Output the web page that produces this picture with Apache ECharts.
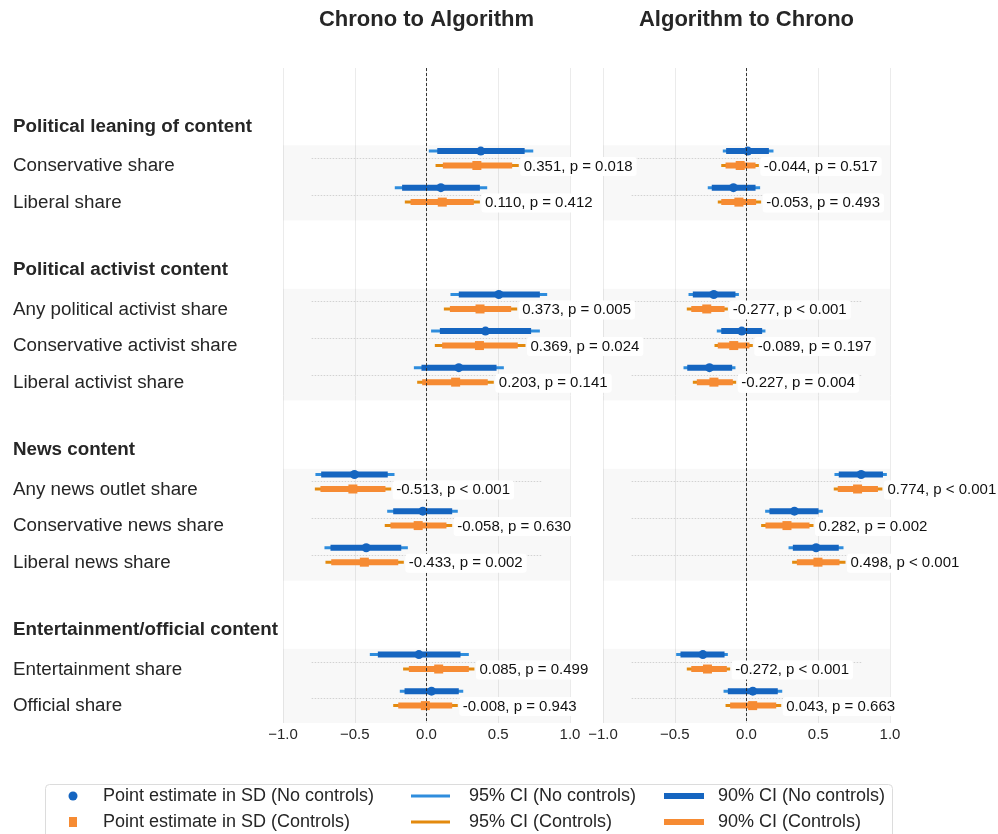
<!DOCTYPE html>
<html>
<head>
<meta charset="utf-8">
<script src="https://cdn.jsdelivr.net/npm/echarts@6/dist/echarts.min.js"></script>
<style>
  html, body { margin: 0; padding: 0; background: #fff; }
  #chart { width: 998px; height: 834px; }
</style>
</head>
<body>
<div id="chart"></div>
<script>
// ---- data ----
const panelTitles = ['Chrono to Algorithm', 'Algorithm to Chrono'];
const groups = ['Political leaning of content', 'Political activist content', 'News content', 'Entertainment/official content'];
const rowLabels = [
  'Conservative share', 'Liberal share',
  'Any political activist share', 'Conservative activist share', 'Liberal activist share',
  'Any news outlet share', 'Conservative news share', 'Liberal news share',
  'Entertainment share', 'Official share'
];
const rowGroup = [0, 0, 1, 1, 1, 2, 2, 2, 3, 3];

// [estimate, 95% low, 95% high, 90% low, 90% high]
const c2aNoCtrl = [
  [0.378, 0.016, 0.744, 0.075, 0.684],
  [0.100, -0.221, 0.423, -0.170, 0.372],
  [0.504, 0.167, 0.841, 0.225, 0.790],
  [0.411, 0.032, 0.790, 0.093, 0.729],
  [0.225, -0.088, 0.539, -0.035, 0.488],
  [-0.502, -0.774, -0.223, -0.734, -0.270],
  [-0.026, -0.274, 0.218, -0.232, 0.179],
  [-0.420, -0.711, -0.130, -0.669, -0.176],
  [-0.053, -0.395, 0.295, -0.339, 0.237],
  [0.035, -0.186, 0.256, -0.153, 0.225]
];
const c2aCtrl = [
  [0.351, 0.063, 0.643, 0.114, 0.597],
  [0.110, -0.151, 0.372, -0.111, 0.330],
  [0.373, 0.121, 0.632, 0.163, 0.590],
  [0.369, 0.058, 0.690, 0.109, 0.636],
  [0.203, -0.065, 0.469, -0.030, 0.427],
  [-0.513, -0.778, -0.246, -0.739, -0.286],
  [-0.058, -0.291, 0.179, -0.251, 0.139],
  [-0.433, -0.704, -0.158, -0.664, -0.197],
  [0.085, -0.163, 0.334, -0.123, 0.295],
  [-0.008, -0.232, 0.218, -0.197, 0.179]
];
const c2aP = ['p = 0.018', 'p = 0.412', 'p = 0.005', 'p = 0.024', 'p = 0.141',
              'p < 0.001', 'p = 0.630', 'p = 0.002', 'p = 0.499', 'p = 0.943'];

const a2cNoCtrl = [
  [0.009, -0.165, 0.188, -0.142, 0.156],
  [-0.091, -0.270, 0.095, -0.242, 0.063],
  [-0.228, -0.404, -0.053, -0.374, -0.077],
  [-0.033, -0.207, 0.132, -0.176, 0.109],
  [-0.258, -0.439, -0.077, -0.413, -0.100],
  [0.799, 0.613, 0.978, 0.643, 0.951],
  [0.334, 0.130, 0.532, 0.160, 0.502],
  [0.485, 0.293, 0.676, 0.323, 0.643],
  [-0.304, -0.490, -0.130, -0.460, -0.153],
  [0.044, -0.160, 0.249, -0.130, 0.218]
];
const a2cCtrl = [
  [-0.044, -0.176, 0.086, -0.146, 0.063],
  [-0.053, -0.200, 0.102, -0.176, 0.067],
  [-0.277, -0.416, -0.130, -0.385, -0.153],
  [-0.089, -0.223, 0.044, -0.200, 0.021],
  [-0.227, -0.374, -0.072, -0.346, -0.095],
  [0.774, 0.608, 0.947, 0.636, 0.916],
  [0.282, 0.102, 0.467, 0.132, 0.439],
  [0.498, 0.318, 0.690, 0.351, 0.648],
  [-0.272, -0.416, -0.114, -0.385, -0.137],
  [0.043, -0.146, 0.242, -0.114, 0.207]
];
const a2cP = ['p = 0.517', 'p = 0.493', 'p < 0.001', 'p = 0.197', 'p = 0.004',
              'p < 0.001', 'p = 0.002', 'p < 0.001', 'p < 0.001', 'p = 0.663'];

const xTicks = [-1.0, -0.5, 0.0, 0.5, 1.0];

// ---- styling ----
const FONT = "'Liberation Sans', Arial, Helvetica, sans-serif";
const TEXT = '#262626';
const BLUE95 = '#2f8ddd';
const BLUE90 = '#1565c0';
const ORANGE95 = '#e38a0e';
const ORANGE90 = '#f68b33';

// ---- vertical layout (in row units, y axis inverted) ----
const FIRST_ROW = 2.46;
const GROUP_STEP = 2.92;   // distance from last row of a group to first row of the next
const HEADER_OFFSET = 0.86;
const LABEL_SHIFT = 0.22;
const Y_MAX = 17.9;

const rowPos = [];
const groupFirst = [], groupLast = [];
{
  let pos = FIRST_ROW;
  rowGroup.forEach((g, i) => {
    if (i > 0) pos += (g !== rowGroup[i - 1]) ? GROUP_STEP : 1;
    rowPos.push(pos);
    if (groupFirst[g] === undefined) groupFirst[g] = pos;
    groupLast[g] = pos;
  });
}

const chart = echarts.init(document.getElementById('chart'), null, { renderer: 'canvas' });

const grids = [
  { left: 283, width: 287, top: 68, height: 655 },
  { left: 603, width: 287, top: 68, height: 655 }
];

function fmtTick(v) {
  return v.toFixed(1).replace('-', '\u2212');
}

const xAxes = grids.map((g, i) => ({
  type: 'value', gridIndex: i, min: xTicks[0], max: xTicks[xTicks.length - 1],
  interval: xTicks[1] - xTicks[0],
  axisLine: { show: false }, axisTick: { show: false },
  axisLabel: { formatter: fmtTick, fontSize: 15, color: TEXT, fontFamily: FONT, margin: 4 },
  splitLine: { show: true, lineStyle: { color: '#ebebeb', width: 1 } }
}));
const yAxes = grids.map((g, i) => ({
  type: 'value', gridIndex: i, min: 0, max: Y_MAX, inverse: true, show: false,
  splitLine: { show: false }
}));

// shaded bands per group + dotted row guides + zero line
function bandSeries(gi) {
  return {
    type: 'custom', xAxisIndex: gi, yAxisIndex: gi, z: 1, silent: true,
    data: groups.map((g, i) => [0, i]),
    renderItem: (params, api) => {
      const gIdx = api.value(1);
      const x0 = api.coord([xTicks[0], 0])[0];
      const x1 = api.coord([xTicks[xTicks.length - 1], 0])[0];
      const yTop = api.coord([0, groupFirst[gIdx] - 0.35])[1];
      const yBot = api.coord([0, Math.min(groupLast[gIdx] + 0.71, Y_MAX)])[1];
      const children = [{
        type: 'rect', shape: { x: x0, y: yTop, width: x1 - x0, height: yBot - yTop },
        style: { fill: 'rgba(0,0,0,0.028)' }
      }];
      rowPos.forEach((p, r) => {
        if (rowGroup[r] !== gIdx) return;
        const y = Math.round(api.coord([0, p])[1]) + 0.5;
        children.push({
          type: 'line',
          shape: { x1: api.coord([-0.8, 0])[0], y1: y, x2: api.coord([0.8, 0])[0], y2: y },
          style: { stroke: '#c8c8c8', lineWidth: 0.8, lineDash: [1.5, 1.5] }
        });
      });
      return { type: 'group', children };
    },
    markLine: {
      silent: true, symbol: ['none', 'none'], label: { show: false },
      lineStyle: { color: '#222', type: [3, 2], width: 0.9 },
      data: [{ xAxis: 0 }]
    }
  };
}

// confidence intervals and point estimates
function ciSeries(gi, rows, offset, c95, c90, pointShape) {
  return {
    type: 'custom', xAxisIndex: gi, yAxisIndex: gi, z: 3, silent: true,
    data: rows.map((r, i) => r.concat([i])),
    renderItem: (params, api) => {
      const r = api.value(5);
      const y = api.coord([0, rowPos[r] + offset])[1];
      const px = v => api.coord([v, 0])[0];
      const children = [
        { type: 'line', shape: { x1: px(api.value(1)), y1: y, x2: px(api.value(2)), y2: y },
          style: { stroke: c95, lineWidth: 3, lineCap: 'butt' } },
        { type: 'line', shape: { x1: px(api.value(3)), y1: y, x2: px(api.value(4)), y2: y },
          style: { stroke: c90, lineWidth: 6, lineCap: 'butt' } }
      ];
      const cx = px(api.value(0));
      if (pointShape === 'circle') {
        children.push({ type: 'circle', shape: { cx, cy: y, r: 4.5 }, style: { fill: c90 } });
      } else {
        children.push({ type: 'rect', shape: { x: cx - 4.5, y: y - 4.5, width: 9, height: 9 }, style: { fill: c90 } });
      }
      return { type: 'group', children };
    }
  };
}

// value labels next to the controlled estimate
function labelSeries(gi, rows, pvals, offset) {
  return {
    type: 'custom', xAxisIndex: gi, yAxisIndex: gi, z: 10, silent: true,
    data: rows.map((r, i) => [r[0], r[2], i]),
    renderItem: (params, api) => {
      const r = api.value(2);
      const y = api.coord([0, rowPos[r] + offset])[1];
      const x = api.coord([api.value(1), 0])[0];
      return {
        type: 'text', z2: 100,
        style: {
          x: x + 1.5, y: y + 1, text: api.value(0).toFixed(3) + ', ' + pvals[r],
          align: 'left', verticalAlign: 'middle',
          fill: '#111', fontSize: 15, fontFamily: FONT,
          backgroundColor: '#ffffff', padding: [2, 4, 2, 3.5], borderRadius: 3
        }
      };
    }
  };
}

// row labels and group headers on the left margin
const textSeries = {
  type: 'custom', xAxisIndex: 0, yAxisIndex: 0, z: 5, silent: true,
  data: rowLabels.map((t, i) => [0, i, 0]).concat(groups.map((t, i) => [0, i, 1])),
  renderItem: (params, api) => {
    const idx = api.value(1);
    const isHeader = api.value(2) === 1;
    const pos = isHeader ? groupFirst[idx] - HEADER_OFFSET : rowPos[idx] + LABEL_SHIFT;
    const y = api.coord([0, pos])[1];
    return {
      type: 'text',
      style: {
        x: 13, y: y, text: isHeader ? groups[idx] : rowLabels[idx],
        align: 'left', verticalAlign: 'middle',
        fill: TEXT, fontSize: 18.8, fontFamily: FONT,
        fontWeight: isHeader ? 'bold' : 'normal'
      }
    };
  }
};

const BLUE_OFF = -0.19, ORANGE_OFF = 0.205;

const series = [
  bandSeries(0), bandSeries(1),
  ciSeries(0, c2aNoCtrl, BLUE_OFF, BLUE95, BLUE90, 'circle'),
  ciSeries(0, c2aCtrl, ORANGE_OFF, ORANGE95, ORANGE90, 'square'),
  ciSeries(1, a2cNoCtrl, BLUE_OFF, BLUE95, BLUE90, 'circle'),
  ciSeries(1, a2cCtrl, ORANGE_OFF, ORANGE95, ORANGE90, 'square'),
  labelSeries(0, c2aCtrl, c2aP, ORANGE_OFF),
  labelSeries(1, a2cCtrl, a2cP, ORANGE_OFF),
  textSeries
];

// titles centred above each panel and the legend box below
const legendFont = { fill: TEXT, fontSize: 18, fontFamily: FONT };
const legendRows = [
  { y: 796, point: 'circle', pc: BLUE90, c95: BLUE95, c90: BLUE90,
    t1: 'Point estimate in SD (No controls)', t2: '95% CI (No controls)', t3: '90% CI (No controls)' },
  { y: 822, point: 'rect', pc: ORANGE90, c95: ORANGE95, c90: ORANGE90,
    t1: 'Point estimate in SD (Controls)', t2: '95% CI (Controls)', t3: '90% CI (Controls)' }
];
const legendEls = [{
  type: 'rect', shape: { x: 45.5, y: 784.5, width: 847, height: 70, r: 4 },
  style: { fill: '#fff', stroke: '#dcdcdc', lineWidth: 1 }, z: 50
}];
legendRows.forEach(r => {
  legendEls.push(r.point === 'circle'
    ? { type: 'circle', shape: { cx: 73, cy: r.y, r: 4.5 }, style: { fill: r.pc }, z: 51 }
    : { type: 'rect', shape: { x: 69, y: r.y - 5, width: 8, height: 10 }, style: { fill: r.pc }, z: 51 });
  legendEls.push({ type: 'text', x: 103, y: r.y, z: 51,
    style: Object.assign({ text: r.t1, verticalAlign: 'middle' }, legendFont) });
  legendEls.push({ type: 'line', shape: { x1: 411, y1: r.y, x2: 450, y2: r.y }, z: 51,
    style: { stroke: r.c95, lineWidth: 3 } });
  legendEls.push({ type: 'text', x: 469, y: r.y, z: 51,
    style: Object.assign({ text: r.t2, verticalAlign: 'middle' }, legendFont) });
  legendEls.push({ type: 'line', shape: { x1: 664, y1: r.y, x2: 704, y2: r.y }, z: 51,
    style: { stroke: r.c90, lineWidth: 6 } });
  legendEls.push({ type: 'text', x: 718, y: r.y, z: 51,
    style: Object.assign({ text: r.t3, verticalAlign: 'middle' }, legendFont) });
});

const titleEls = panelTitles.map((t, i) => ({
  type: 'text', x: grids[i].left + grids[i].width / 2, y: 19.5,
  style: { text: t, align: 'center', verticalAlign: 'middle', fill: TEXT,
           fontSize: 22, fontWeight: 'bold', fontFamily: FONT }
}));

chart.setOption({
  animation: false,
  backgroundColor: '#ffffff',
  textStyle: { fontFamily: FONT },
  grid: grids,
  xAxis: xAxes,
  yAxis: yAxes,
  series: series,
  graphic: titleEls.concat(legendEls)
});
</script>
</body>
</html>
